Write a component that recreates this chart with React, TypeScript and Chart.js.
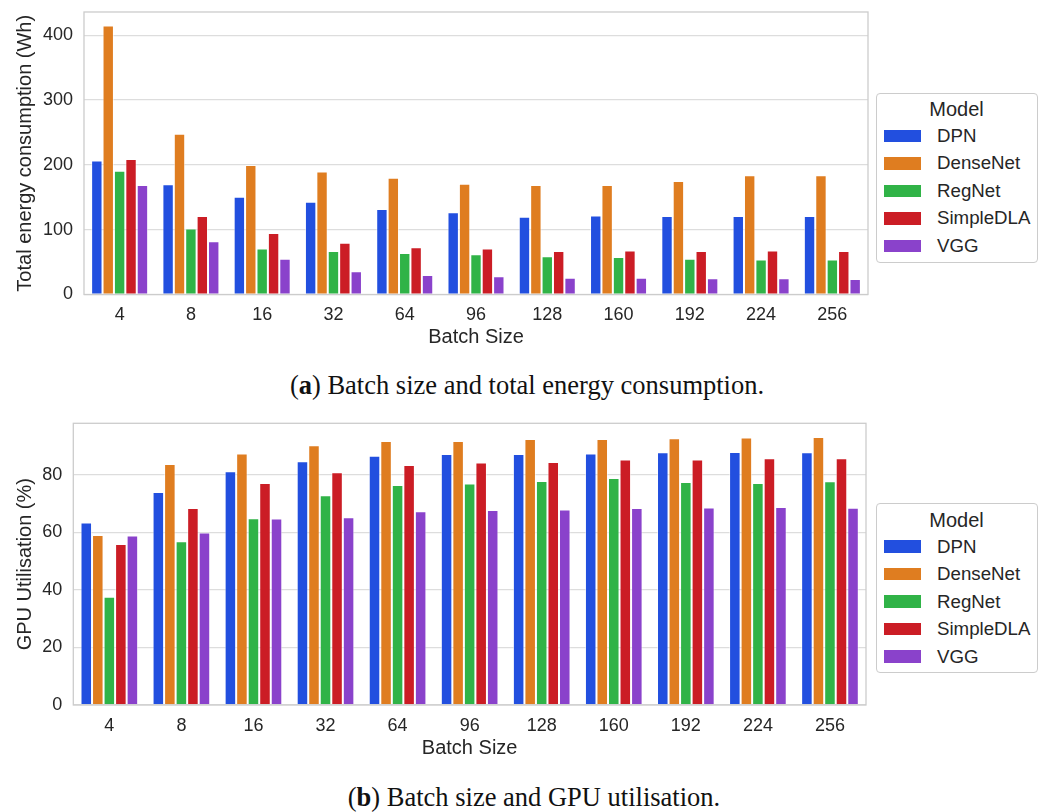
import React, { useEffect, useRef } from "react";
import { Chart, registerables } from "chart.js";

Chart.register(...registerables);

const batchSizes = ["4", "8", "16", "32", "64", "96", "128", "160", "192", "224", "256"];
const models = ["DPN", "DenseNet", "RegNet", "SimpleDLA", "VGG"];
const modelColors = ["#224fdf", "#df7d20", "#30b347", "#cb1d25", "#8a42cb"];

// (a) Total energy consumption (Wh)
const energyDPN = [207, 170, 151, 143, 132, 127, 120, 122, 121, 121, 121];
const energyDenseNet = [415, 248, 200, 190, 180, 171, 169, 169, 175, 184, 184];
const energyRegNet = [191, 102, 71, 67, 64, 62, 59, 58, 55, 54, 54];
const energySimpleDLA = [209, 121, 95, 80, 73, 71, 67, 68, 67, 68, 67];
const energyVGG = [169, 82, 55, 36, 30, 28, 26, 26, 25, 25, 24];

// (b) GPU utilisation (%)
const gpuDPN = [63.5, 74.1, 81.3, 84.8, 86.7, 87.3, 87.3, 87.5, 87.9, 88.0, 87.9];
const gpuDenseNet = [59.1, 83.8, 87.5, 90.4, 91.8, 91.8, 92.5, 92.5, 92.8, 93.1, 93.2];
const gpuRegNet = [37.7, 57.0, 65.0, 73.0, 76.5, 77.1, 77.9, 79.0, 77.6, 77.2, 77.8];
const gpuSimpleDLA = [56.0, 68.5, 77.2, 81.0, 83.5, 84.4, 84.5, 85.4, 85.4, 85.8, 85.8];
const gpuVGG = [59.0, 60.0, 64.9, 65.3, 67.4, 67.8, 68.0, 68.5, 68.7, 68.9, 68.6];

const energyTicks = [0, 100, 200, 300, 400];
const gpuTicks = [0, 20, 40, 60, 80];

const TEXT = "#262626";
const SANS = "'Liberation Sans', Arial, sans-serif";
const SERIF = "'Liberation Serif', 'Times New Roman', serif";

const frame = {
  id: "frame",
  afterDatasetsDraw(chart: any) {
    const { ctx, chartArea } = chart;
    ctx.save();
    ctx.strokeStyle = "#cccccc";
    ctx.lineWidth = 1.3;
    ctx.strokeRect(chartArea.left, chartArea.top, chartArea.right - chartArea.left, chartArea.bottom - chartArea.top);
    ctx.restore();
  },
};

type PanelProps = {
  series: number[][];
  yMax: number;
  yTicks: number[];
  yTitle: string;
  padTop: number;
  padRight: number;
  yWidth: number;
  xHeight: number;
  xTitlePad: number;
  yTitlePad: number;
};

function BarPanel(p: PanelProps) {
  const ref = useRef<HTMLCanvasElement | null>(null);
  useEffect(() => {
    if (!ref.current) return;
    const chart = new Chart(ref.current, {
      type: "bar",
      data: {
        labels: batchSizes,
        datasets: models.map((m, i) => ({
          label: m,
          data: p.series[i],
          backgroundColor: modelColors[i],
          borderColor: "rgba(255,255,255,0.55)",
          borderWidth: 1,
          categoryPercentage: 0.8,
          barPercentage: 1.0,
        })),
      },
      options: {
        animation: false,
        responsive: false,
        layout: { padding: { top: p.padTop, right: p.padRight, left: 0, bottom: 0 } },
        plugins: { legend: { display: false }, tooltip: { enabled: false } },
        scales: {
          x: {
            grid: { display: false, drawTicks: false },
            border: { display: false },
            ticks: { color: TEXT, font: { family: SANS, size: 18 }, padding: 10 },
            title: {
              display: true,
              text: "Batch Size",
              color: TEXT,
              font: { family: SANS, size: 20, lineHeight: 1.2 },
              padding: { top: 0, bottom: p.xTitlePad },
            },
            afterFit: (s: any) => {
              s.height = p.xHeight;
              s.paddingLeft = 0;
              s.paddingRight = 0;
            },
          },
          y: {
            min: 0,
            max: p.yMax,
            grid: { color: "#dddddd", lineWidth: 1.3, drawTicks: false },
            border: { display: false },
            afterBuildTicks: (s: any) => {
              s.ticks = p.yTicks.map((v) => ({ value: v }));
            },
            ticks: {
              color: TEXT,
              font: { family: SANS, size: 18 },
              padding: 11,
            },
            title: {
              display: true,
              text: p.yTitle,
              color: TEXT,
              font: { family: SANS, size: 20, lineHeight: 1.2 },
              padding: { top: p.yTitlePad, bottom: 0 },
            },
            afterFit: (s: any) => {
              s.width = p.yWidth;
              s.paddingTop = 0;
              s.paddingBottom = 0;
            },
          },
        },
      },
      plugins: [frame],
    });
    return () => chart.destroy();
  }, []);
  return <canvas ref={ref} width={862} height={352} style={{ display: "block" }} />;
}

function Legend({ top }: { top: number }) {
  return (
    <div
      style={{
        position: "absolute",
        left: 867.5,
        top,
        width: 162,
        height: 170,
        border: "1px solid #cccccc",
        borderRadius: 4,
        boxSizing: "border-box",
        fontFamily: SANS,
        color: TEXT,
      }}
    >
      <div
        style={{
          position: "absolute",
          left: 0,
          width: "100%",
          top: 15.6 - 12,
          height: 24,
          lineHeight: "24px",
          textAlign: "center",
          fontSize: 20,
        }}
      >
        Model
      </div>
      {models.map((m, i) => (
        <React.Fragment key={m}>
          <div
            style={{
              position: "absolute",
              left: 7,
              top: 42.3 + i * 27.5 - 6.3,
              width: 37,
              height: 12.5,
              background: modelColors[i],
            }}
          />
          <div
            style={{
              position: "absolute",
              left: 60.5,
              top: 42.3 + i * 27.5 - 11,
              height: 22,
              lineHeight: "22px",
              fontSize: 18.7,
              whiteSpace: "nowrap",
            }}
          >
            {m}
          </div>
        </React.Fragment>
      ))}
    </div>
  );
}

function Caption({ center, y, letter, text }: { center: number; y: number; letter: string; text: string }) {
  return (
    <div
      style={{
        position: "absolute",
        left: center - 8 - 400,
        width: 800,
        top: y - 8 - 16,
        height: 32,
        lineHeight: "32px",
        textAlign: "center",
        fontFamily: SERIF,
        fontSize: 26.5,
        color: "#111111",
        whiteSpace: "nowrap",
      }}
    >
      (<b>{letter}</b>) {text}
    </div>
  );
}

export default function App() {
  return (
    <div style={{ position: "relative", width: 1030, height: 804, background: "#ffffff" }}>
      <div style={{ position: "absolute", left: 0, top: 0 }}>
        <BarPanel
          series={[energyDPN, energyDenseNet, energyRegNet, energySimpleDLA, energyVGG]}
          yMax={436}
          yTicks={energyTicks}
          yTitle="Total energy consumption (Wh)"
          padTop={4}
          padRight={2}
          yWidth={76}
          xHeight={65.5}
          xTitlePad={11}
          yTitlePad={5}
        />
      </div>
      <Legend top={84.7} />
      <Caption center={527} y={385} letter="a" text="Batch size and total energy consumption." />
      <div style={{ position: "absolute", left: 0, top: 404 }}>
        <BarPanel
          series={[gpuDPN, gpuDenseNet, gpuRegNet, gpuSimpleDLA, gpuVGG]}
          yMax={98}
          yTicks={gpuTicks}
          yTitle="GPU Utilisation (%)"
          padTop={11.3}
          padRight={4}
          yWidth={65.3}
          xHeight={59}
          xTitlePad={4}
          yTitlePad={5}
        />
      </div>
      <Legend top={495.3} />
      <Caption center={534} y={797} letter="b" text="Batch size and GPU utilisation." />
    </div>
  );
}
